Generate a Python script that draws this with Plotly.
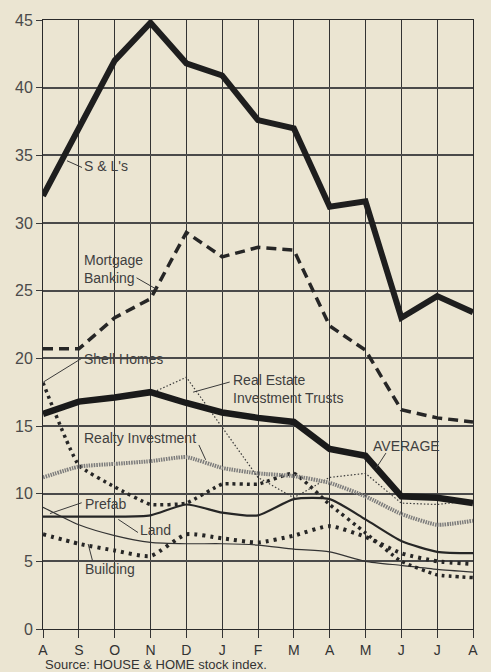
import plotly.graph_objects as go

months = ["A", "S", "O", "N", "D", "J", "F", "M", "A", "M", "J", "J", "A"]
x_idx = list(range(len(months)))

sl = [32.0, 37.0, 42.0, 44.8, 41.8, 40.9, 37.6, 37.0, 31.2, 31.6, 23.0, 24.6, 23.4]
mortgage = [20.7, 20.7, 23.0, 24.4, 29.3, 27.5, 28.2, 28.0, 22.4, 20.6, 16.2, 15.6, 15.3]
average = [15.9, 16.8, 17.1, 17.5, 16.7, 16.0, 15.6, 15.3, 13.3, 12.8, 9.8, 9.7, 9.3]
realty = [11.2, 12.0, 12.2, 12.4, 12.7, 11.9, 11.5, 11.3, 10.8, 9.8, 8.5, 7.7, 8.0]
reit = [None, None, None, 17.4, 18.6, 14.9, 11.2, 9.7, 11.2, 11.5, 9.3, 9.2, 9.5]
shell = [18.2, 12.1, 10.5, 9.2, 9.3, 10.7, 10.7, 11.5, 9.2, 7.1, 5.0, 4.0, 3.8]
building = [7.0, 6.3, 5.8, 5.4, 7.0, 6.7, 6.4, 6.9, 7.6, 6.8, 5.6, 5.0, 4.8]
prefab = [8.3, 8.3, 8.3, 8.4, 9.2, 8.6, 8.4, 9.6, 9.6, 8.1, 6.5, 5.7, 5.6]
land = [9.0, 7.7, 6.9, 6.4, 6.3, 6.3, 6.2, 5.9, 5.7, 5.0, 4.7, 4.4, 4.2]

y_ticks = [0, 5, 10, 15, 20, 25, 30, 35, 40, 45]

BG = "#ebe5d2"
INK = "#262626"
TXT = "#3f3f3f"
FONT = "Liberation Sans, Arial, sans-serif"

fig = go.Figure()

def add(y, color, width, dash="solid", shape="linear", smooth=None):
    line = dict(color=color, width=width, dash=dash, shape=shape)
    if smooth is not None:
        line["smoothing"] = smooth
    fig.add_trace(go.Scatter(x=x_idx, y=y, mode="lines", line=line,
                             showlegend=False, hoverinfo="skip"))

add(land, "#333333", 1.2, shape="spline", smooth=0.6)
add(building, INK, 4, dash="3px,5px", shape="spline", smooth=0.6)
add(prefab, INK, 2.2, shape="spline", smooth=0.6)
add(shell, INK, 3.5, dash="3px,4px", shape="spline", smooth=0.4)
add(reit, "#3a3a3a", 1.2, dash="1.5px,2px")
add(realty, "#7c7c7c", 4, dash="1.5px,1px", shape="spline", smooth=0.5)
add(average, "#1a1a1a", 6.5)
add(mortgage, INK, 3.5, dash="10px,6px")
add(sl, "#1e1e1e", 6)

labels = [
    ("S & L's", 1.09, 34.2),
    ("Mortgage<br>Banking", 1.09, 26.6),
    ("Shell Homes", 1.09, 19.95),
    ("Real Estate<br>Investment Trusts", 5.26, 17.7),
    ("Realty Investment", 1.08, 14.1),
    ("AVERAGE", 9.16, 13.55),
    ("Prefab", 1.11, 9.2),
    ("Land", 2.65, 7.3),
    ("Building", 1.11, 4.4),
]
for text, lx, ly in labels:
    fig.add_annotation(x=lx, y=ly, text=text, showarrow=False, xanchor="left",
                       yanchor="middle", align="left",
                       font=dict(family=FONT, size=14, color=TXT))

leaders = [
    (0.67, 34.6, 1.09, 34.1),
    (2.61, 25.95, 3.17, 25.1),
    (0.01, 18.25, 1.08, 20.0),
    (4.19, 17.5, 5.21, 18.25),
    (4.35, 13.6, 4.54, 12.5),
    (9.57, 13.0, 9.30, 11.9),
    (0.195, 8.53, 1.08, 9.33),
    (2.1, 8.1, 2.65, 7.13),
    (1.26, 6.28, 1.38, 5.06),
]
for x0, y0, x1, y1 in leaders:
    fig.add_shape(type="line", x0=x0, y0=y0, x1=x1, y1=y1, xref="x", yref="y",
                  line=dict(color="#3a3a3a", width=1))

fig.add_annotation(text="Source: HOUSE & HOME stock index.", xref="paper", yref="paper",
                   x=0, y=-0.0585, xanchor="left", yanchor="middle", showarrow=False,
                   font=dict(family=FONT, size=13, color="#333333"))

fig.update_xaxes(range=[0, 12], tickvals=x_idx, ticktext=months,
                 showgrid=True, gridcolor="#333333", gridwidth=1,
                 ticks="outside", ticklen=8, tickcolor="#333333", tickwidth=1,
                 ticklabelstandoff=0,
                 showline=True, linecolor="#2a2a2a", linewidth=1, mirror=True,
                 zeroline=False,
                 tickfont=dict(family=FONT, size=14, color="#333333"))
fig.update_yaxes(range=[0, 45], tickvals=y_ticks,
                 showgrid=True, gridcolor="#4a4a4a", gridwidth=1.5,
                 ticks="outside", ticklen=6, tickcolor="#3a3a3a", tickwidth=1,
                 showline=True, linecolor="#2a2a2a", linewidth=1, mirror=True,
                 zeroline=True, zerolinecolor="#2a2a2a", zerolinewidth=2,
                 tickfont=dict(family=FONT, size=16, color="#4a4a4a"))

fig.update_layout(width=491, height=672, paper_bgcolor=BG, plot_bgcolor=BG,
                  margin=dict(l=43, r=18, t=15, b=43), showlegend=False)

fig.write_html("out.html", config={"displayModeBar": False},
               post_script="document.body.style.margin='0';document.body.style.padding='0';document.body.style.background='" + BG + "';")
